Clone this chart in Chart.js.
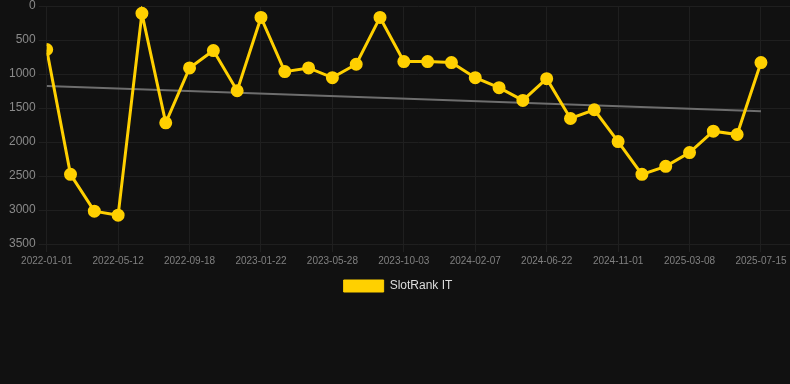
<!DOCTYPE html>
<html>
<head>
<meta charset="utf-8">
<script src="https://cdn.jsdelivr.net/npm/chart.js@4/dist/chart.umd.min.js"></script>
<style>
  html, body { margin: 0; padding: 0; background: #111111; }
  #wrap { width: 790px; height: 302px; position: relative; }
</style>
</head>
<body>
<div id="wrap"><canvas id="rankChart"></canvas></div>
<script>
// dates for each sample (only every third one is shown on the axis)
const dates = [
  '2022-01-01', '2022-02-14', '2022-03-29', '2022-05-12', '2022-06-24', '2022-08-06',
  '2022-09-18', '2022-10-30', '2022-12-11', '2023-01-22', '2023-03-06', '2023-04-16',
  '2023-05-28', '2023-07-09', '2023-08-21', '2023-10-03', '2023-11-14', '2023-12-26',
  '2024-02-07', '2024-03-23', '2024-05-07', '2024-06-22', '2024-08-04', '2024-09-18',
  '2024-11-01', '2024-12-14', '2025-01-25', '2025-03-08', '2025-04-19', '2025-06-01',
  '2025-07-15'
];
const rankIT = [
  640, 2476, 3017, 3076, 108, 1718, 911, 655, 1246, 168, 965,
  911, 1054, 857, 168, 817, 817, 832, 1054, 1201, 1388, 1069,
  1654, 1526, 1994, 2476, 2358, 2156, 1841, 1890, 832
];
const trendStart = 1177;
const trendEnd = 1546;
const shownTicks = [0, 3, 6, 9, 12, 15, 18, 21, 24, 27, 30];

const gold = '#ffd000';
Chart.defaults.font.family = "Arial, 'Liberation Sans', sans-serif";

const ctx = document.getElementById('rankChart').getContext('2d');
new Chart(ctx, {
  type: 'line',
  data: {
    datasets: [{
      label: 'SlotRank IT',
      data: rankIT.map((v, i) => ({ x: i, y: v })),
      borderColor: gold,
      backgroundColor: gold,
      borderWidth: 3,
      pointRadius: 5,
      pointBackgroundColor: gold,
      pointBorderColor: gold,
      tension: 0,
      fill: false
    }, {
      label: 'trend',
      data: [{ x: 0, y: trendStart }, { x: dates.length - 1, y: trendEnd }],
      borderColor: '#6e6e6e',
      borderWidth: 2,
      pointRadius: 0,
      fill: false
    }]
  },
  options: {
    responsive: true,
    maintainAspectRatio: false,
    animation: false,
    layout: { autoPadding: false, padding: { left: 6, right: 0, top: 0, bottom: 0 } },
    scales: {
      x: {
        type: 'linear',
        min: 0,
        max: 31.22,
        afterBuildTicks: (scale) => {
          scale.ticks = shownTicks.map(v => ({ value: v }));
        },
        afterFit: (scale) => { scale.paddingRight = 0; },
        ticks: {
          color: '#808080',
          font: { size: 10 },
          maxRotation: 0,
          autoSkip: false,
          callback: (v) => dates[v]
        },
        grid: { color: '#1f1f1f' },
        border: { color: '#1f1f1f' }
      },
      y: {
        reverse: true,
        min: 0,
        max: 3500,
        afterFit: (scale) => { scale.paddingTop = 6; },
        ticks: { stepSize: 500, color: '#8a8a8a', font: { size: 12 }, callback: (v) => String(v) },
        grid: { color: '#1f1f1f' },
        border: { display: false }
      }
    },
    plugins: {
      legend: {
        position: 'bottom',
        labels: {
          color: '#dddddd',
          font: { size: 12 },
          boxWidth: 40,
          boxHeight: 12,
          filter: (item) => item.text !== 'trend',
          generateLabels: (chart) => Chart.defaults.plugins.legend.labels.generateLabels(chart)
            .map(l => Object.assign(l, { lineWidth: 1 }))
        }
      },
      tooltip: { enabled: false }
    }
  }
});
</script>
</body>
</html>
